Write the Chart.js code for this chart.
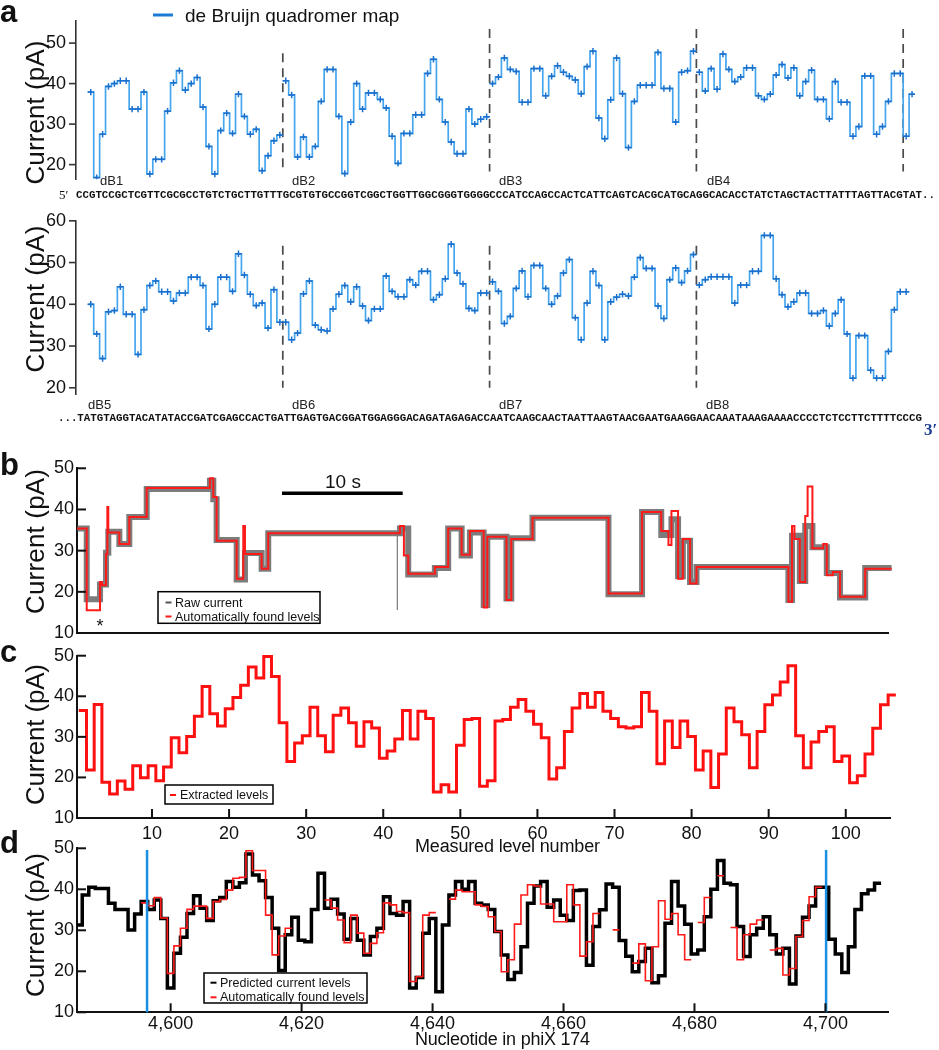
<!DOCTYPE html>
<html lang="en">
<head>
<meta charset="UTF-8" />
<title>de Bruijn map and phiX 174 current levels</title>
<style>
  html, body { margin: 0; padding: 0; background: #fff; }
  #page { position: relative; width: 939px; height: 1050px; overflow: hidden; }
  #page canvas { position: absolute; left: 0; }
  #notes { position: absolute; left: 0; top: 0; z-index: 2; }
  #err { position: absolute; left: 300px; top: 60px; z-index: 3; color: #c00; font: 12px monospace; }
</style>
</head>
<body>
<div id="page">
  <canvas id="chart_a1" width="939" height="200" style="top:0px"></canvas>
  <canvas id="chart_a2" width="939" height="215" style="top:200px"></canvas>
  <canvas id="chart_b" width="939" height="210" style="top:440px"></canvas>
  <canvas id="chart_c" width="939" height="215" style="top:640px"></canvas>
  <canvas id="chart_d" width="939" height="220" style="top:830px"></canvas>
  <div id="err"></div>

  <svg id="notes" width="939" height="1050" font-family="Liberation Sans, Arial, sans-serif" fill="#111">
    <!-- panel letters -->
    <g font-size="31" font-weight="bold">
      <text x="0" y="22">a</text>
      <text x="0" y="475">b</text>
      <text x="0" y="662">c</text>
      <text x="0" y="853">d</text>
    </g>
    <!-- y titles -->
    <g font-size="26" text-anchor="middle">
      <text transform="translate(43.5,112.5) rotate(-90)" textLength="144">Current (pA)</text>
      <text transform="translate(43.5,299) rotate(-90)" textLength="147">Current (pA)</text>
      <text transform="translate(43.5,541.5) rotate(-90)" textLength="145">Current (pA)</text>
      <text transform="translate(43.5,734.5) rotate(-90)" textLength="141">Current (pA)</text>
      <text transform="translate(43.5,925) rotate(-90)" textLength="144">Current (pA)</text>
    </g>
    <!-- x titles -->
    <text x="415" y="852" font-size="18" textLength="185">Measured level number</text>
    <text x="415" y="1045" font-size="18" textLength="175">Nucleotide in phiX 174</text>

    <!-- panel a legend -->
    <line x1="153" y1="15" x2="173" y2="15" stroke="#1a7ad4" stroke-width="3" />
    <text x="185" y="21.5" font-size="19">de Bruijn quadromer map</text>

    <!-- de Bruijn segment labels -->
    <g font-size="13" fill="#222">
      <text x="100" y="185">dB1</text>
      <text x="292" y="185">dB2</text>
      <text x="499" y="185">dB3</text>
      <text x="707" y="185">dB4</text>
      <text x="88" y="408.5">dB5</text>
      <text x="292" y="408.5">dB6</text>
      <text x="499" y="409">dB7</text>
      <text x="706" y="409">dB8</text>
    </g>

    <!-- strand sequence -->
    <text x="59" y="199" font-family="Liberation Serif, serif" font-size="13">5′</text>
    <g font-family="Liberation Mono, monospace" font-weight="bold" font-size="10.8">
      <text x="76" y="198" textLength="859" lengthAdjust="spacing">CCGTCCGCTCGTTCGCGCCTGTCTGCTTGTTTGCGTGTGCCGGTCGGCTGGTTGGCGGGTGGGGCCCATCCAGCCACTCATTCAGTCACGCATGCAGGCACACCTATCTAGCTACTTATTTAGTTACGTAT..</text>
      <text x="58" y="421" textLength="864" lengthAdjust="spacing">...TATGTAGGTACATATACCGATCGAGCCACTGATTGAGTGACGGATGGAGGGACAGATAGAGACCAATCAAGCAACTAATTAAGTAACGAATGAAGGAACAAATAAAGAAAACCCCTCTCCTTCTTTTCCCG</text>
    </g>
    <text x="924" y="435" font-family="Liberation Serif, serif" font-weight="bold" font-size="17" fill="#1c3f94">3′</text>

    <!-- panel b scale bar, asterisk, legend -->
    <line x1="282" y1="493.3" x2="402.7" y2="493.3" stroke="#000" stroke-width="3.5" />
    <text x="343" y="488" font-size="19" text-anchor="middle">10 s</text>
    <text x="100" y="632" font-size="18" text-anchor="middle">*</text>
    <rect x="158" y="591.7" width="162" height="31.6" fill="#fff" stroke="#000" stroke-width="1.5" />
    <line x1="165.5" y1="602.5" x2="171.5" y2="602.5" stroke="#555" stroke-width="2" />
    <line x1="165.5" y1="616.5" x2="171.5" y2="616.5" stroke="#ff1a1a" stroke-width="2" />
    <g font-size="12.5">
      <text x="175" y="606.7">Raw current</text>
      <text x="175" y="620.5">Automatically found levels</text>
    </g>

    <!-- panel c legend -->
    <rect x="165" y="785" width="108" height="19" fill="#fff" stroke="#000" stroke-width="1.5" />
    <line x1="170" y1="795" x2="176" y2="795" stroke="#ff1010" stroke-width="2" />
    <text x="180" y="799.3" font-size="12.5">Extracted levels</text>

    <!-- panel d legend -->
    <rect x="204" y="973" width="163" height="30" fill="#fff" stroke="#000" stroke-width="1.5" />
    <line x1="210.5" y1="982.7" x2="216.5" y2="982.7" stroke="#000" stroke-width="2" />
    <line x1="210.5" y1="997.3" x2="216.5" y2="997.3" stroke="#ff1a1a" stroke-width="2" />
    <g font-size="12.5">
      <text x="220" y="986.7">Predicted current levels</text>
      <text x="220" y="1000.7">Automatically found levels</text>
    </g>
  </svg>
</div>

<script src="https://cdn.jsdelivr.net/npm/chart.js"></script>
<script>
// ---- panel a : de Bruijn quadromer map, one level per nucleotide
const dB1 = [37.9, 16.8, 27.5, 39.3, 40.0, 40.7, 40.7, 33.7, 33.7, 37.9, 17.7, 21.3, 21.3, 33.2, 40.2, 43.2, 38.4,
  40.0, 41.5, 34.2, 24.5, 17.7, 28.4, 32.7, 27.7, 37.4, 31.9, 27.5, 28.7, 18.5, 22.2, 25.9, 27.3];
const dB2 = [40.7, 37.2, 21.9, 26.8, 21.9, 24.5, 35.6, 43.5, 43.5, 31.9, 17.8, 30.5, 40.0, 33.7, 37.7, 37.7, 36.1,
  34.0, 27.0, 20.3, 27.7, 27.7, 32.3, 32.3, 42.5, 46.0, 36.1, 30.5, 25.6, 22.7, 22.7, 33.7, 30.0, 31.2, 31.8];
const dB3 = [40.0, 41.6, 46.3, 43.5, 43.0, 35.4, 35.4, 43.7, 43.7, 37.0, 41.8, 44.4, 42.8, 41.8, 40.9, 37.5, 44.2,
  48.0, 31.5, 26.4, 36.0, 46.3, 37.5, 24.2, 35.6, 39.6, 39.6, 39.6, 47.7, 38.8, 38.8, 30.5, 42.8, 43.2, 48.0];
const dB4 = [42.8, 38.2, 43.7, 38.6, 47.3, 43.5, 40.5, 41.6, 43.9, 43.9, 37.0, 36.1, 37.4, 42.1, 44.7, 41.4, 43.9,
  37.0, 40.5, 43.3, 36.1, 36.1, 31.3, 40.5, 35.4, 35.4, 27.0, 29.4, 41.9, 41.9, 27.5, 29.4, 35.6, 42.5, 42.5, 27.0, 37.4];
const dB5 = [40.0, 32.9, 27.0, 38.2, 38.5, 44.2, 37.6, 37.6, 28.0, 38.7, 44.5, 45.6, 43.0, 43.0, 40.8, 42.7, 42.7,
  46.5, 46.5, 44.5, 34.1, 40.0, 46.5, 46.5, 43.1, 52.1, 47.0, 42.4, 39.7, 40.3, 34.3, 43.5, 35.7];
const dB6 = [35.7, 31.5, 33.1, 42.5, 45.6, 35.0, 33.9, 33.6, 38.9, 42.4, 44.5, 40.6, 44.2, 39.6, 36.1, 38.9, 38.9,
  46.8, 43.1, 41.8, 41.8, 45.9, 44.6, 47.9, 47.9, 41.1, 42.3, 46.1, 54.4, 47.5, 44.9, 39.0, 38.5, 42.7, 42.7];
const dB7 = [45.4, 43.1, 35.4, 37.1, 43.8, 48.0, 41.8, 49.3, 49.3, 43.8, 40.0, 42.0, 47.5, 50.7, 36.8, 31.5, 40.3,
  47.9, 44.5, 31.5, 40.6, 41.7, 42.4, 42.0, 46.5, 51.2, 48.6, 48.6, 39.6, 36.6, 45.9, 48.7, 45.2, 48.0, 51.9];
const dB8 = [44.6, 45.9, 46.6, 46.6, 46.6, 46.6, 40.3, 44.6, 44.6, 47.9, 47.9, 56.5, 56.5, 46.1, 42.3, 39.4, 40.6,
  42.7, 42.7, 37.8, 37.8, 38.5, 34.8, 37.8, 41.1, 32.9, 22.3, 32.5, 32.5, 24.2, 22.3, 22.3, 28.7, 38.7, 43.0, 43.0];
const segStart = [2, 35, 70, 105];          // first nucleotide position of each segment
const topBounds = [35, 70, 105, 140];       // dashed separators, top row
const topBoundsFrom = [47.5, 53.5, 53.5, 53.5];
const bottomBounds = [35, 70, 105];         // dashed separators, bottom row
const bottomBoundsFrom = [54, 54, 54];
const aTopTicks = [20, 30, 40, 50];
const aBottomTicks = [20, 30, 40, 50, 60];

// ---- panel b : raw trace (s) and automatically found levels
const bTimes = [0, 0.81, 1.92, 2.08, 2.42, 2.53, 2.61, 3.53, 4.36, 5.81, 11.08, 11.36, 11.64, 13.31, 13.86, 14.0,
  15.39, 15.94, 26.92, 27.25, 27.61, 29.83, 30.94, 32.06, 32.75, 33.9, 34.2, 35.8, 36.2, 37.97, 44.3, 47.1, 48.7,
  49.3, 49.55, 50.1, 50.5, 51.1, 51.64, 59.3, 59.6, 59.8, 60.25, 60.7, 60.9, 61.3, 62.2, 62.5, 63.0, 63.6, 65.7, 67.9, 68.2];
const bLevels = [35.4, 15.5, 22.4, 21.6, 29.2, 40.6, 34.4, 31.6, 38.2, 45.2, 47.6, 43.0, 32.4, 23.2, 36.0, 29.2,
  25.6, 34.2, 36.0, 28.8, 24.4, 26.0, 35.4, 29.0, 34.8, 16.2, 33.4, 18.0, 32.8, 38.0, 19.6, 39.4, 34.8,
  31.4, 39.6, 23.2, 32.8, 22.0, 26.0, 17.6, 36.0, 32.8, 22.4, 38.4, 45.6, 30.6, 31.6, 24.0, 24.8, 18.8, 25.6, 31.6, 36.4];
const bEnd = 68.3;
const rawTimes = [0, 0.81, 1.92, 2.42, 2.61, 3.53, 4.36, 5.81, 11.08, 11.36, 11.64, 13.31, 14.0, 15.39, 15.94,
  26.92, 27.61, 29.83, 30.94, 32.06, 32.75, 33.9, 34.2, 35.8, 36.2, 37.97, 44.3, 47.1, 48.7,
  49.55, 50.1, 50.5, 51.1, 51.64, 59.3, 59.6, 60.25, 60.7, 61.3, 62.5, 63.6, 65.7, 67.9];
const rawLevels = [35.4, 18.2, 21.8, 29.5, 34.6, 31.6, 38.2, 45.0, 47.0, 42.5, 32.6, 23.0, 29.4, 25.6, 34.2,
  35.4, 24.2, 25.8, 35.4, 28.8, 34.4, 16.8, 33.4, 18.4, 33.0, 38.0, 19.4, 39.4, 33.8,
  37.6, 23.8, 32.4, 22.4, 26.0, 18.0, 33.6, 22.6, 36.0, 30.8, 24.6, 18.6, 25.8, 31.0];
const rawEnd = 68.1;
const spikeTime = 26.7;                     // single downward spike in the raw trace
const spikeRange = [34.2, 15.6];
const bTicks = [10, 20, 30, 40, 50];

// ---- panel c : extracted levels, level number 1..106
const cLevels = [36.5, 21.8, 38.0, 18.8, 15.9, 19.1, 17.1, 22.9, 19.9, 22.9,
  19.2, 22.6, 29.8, 26.1, 30.1, 35.1, 42.4, 35.7, 32.7, 36.9,
  39.7, 42.7, 47.2, 44.5, 49.8, 44.9, 33.5, 23.9, 28.5, 30.3,
  37.3, 30.3, 26.3, 35.3, 37.1, 33.5, 27.7, 33.7, 32.2, 24.7,
  26.5, 29.5, 36.5, 29.5, 36.3, 34.5, 16.4, 18.2, 16.4, 27.9,
  34.3, 34.5, 17.8, 19.2, 33.9, 34.3, 37.3, 39.2, 36.3, 33.1,
  29.8, 19.6, 22.4, 31.3, 37.1, 40.7, 37.3, 40.9, 36.3, 34.5,
  32.5, 32.2, 32.5, 40.9, 36.3, 23.4, 33.9, 27.4, 33.9, 30.1,
  21.8, 26.5, 17.5, 25.8, 37.1, 33.7, 30.5, 22.4, 31.3, 37.9,
  40.3, 43.5, 47.5, 30.3, 22.4, 28.7, 31.3, 32.5, 23.9, 25.3,
  18.7, 20.4, 25.8, 32.1, 37.9, 40.3];
const cXTicks = [10, 20, 30, 40, 50, 60, 70, 80, 90, 100];
const cYTicks = [10, 20, 30, 40, 50];

// ---- panel d : predicted levels (nt 4586..4708) and found levels (nt 4596..4699)
const dFirstNt = 4586;
const dPredicted = [31.3, 38.6, 40.5, 40.2, 40.2, 36.6, 35.1, 35.1, 30.1, 34.0,
  37.0, 35.1, 37.4, 32.9, 15.9, 24.4, 28.3, 34.1, 38.4, 35.4,
  32.4, 37.2, 38.0, 41.9, 40.5, 41.6, 48.6, 43.5, 42.1, 38.0,
  30.5, 20.2, 28.9, 33.2, 27.6, 27.2, 35.1, 43.9, 35.4, 37.6,
  34.0, 27.8, 32.9, 27.6, 24.0, 28.5, 30.5, 38.2, 34.1, 33.7,
  37.0, 15.9, 18.5, 29.3, 32.9, 15.0, 31.3, 38.6, 41.9, 40.0,
  41.9, 36.6, 36.2, 35.1, 29.7, 24.0, 18.0, 19.7, 26.0, 36.6,
  40.8, 41.9, 35.6, 37.4, 33.7, 32.4, 39.7, 39.8, 21.5, 30.9,
  35.0, 41.3, 40.5, 27.5, 23.7, 19.9, 22.4, 25.6, 17.2, 18.9,
  31.7, 41.9, 35.9, 31.5, 24.2, 25.2, 33.3, 40.0, 47.0, 41.5,
  41.1, 30.9, 23.6, 28.9, 30.5, 33.3, 28.9, 24.2, 25.6, 16.9,
  28.6, 33.2, 35.9, 40.5, 40.5, 27.8, 24.2, 19.7, 26.0, 35.1,
  38.9, 39.8, 41.5];
const dFoundFirstNt = 4596;
const dFound = [36.7, 36.0, 38.0, 33.0, 19.5, 26.2, 30.5, 35.1, 35.9, 35.9,
  32.9, 37.0, 37.5, 39.8, 42.7, 42.9, 49.4, 44.6, 44.6, 33.7,
  24.0, 28.6, 30.5, null, null, null, null, null, 37.4, 35.4,
  32.5, 27.0, 33.7, 29.3, 24.4, 26.8, 29.4, 36.7, 36.2, 34.6,
  34.3, 17.5, 18.7, 33.7, 34.3, null, null, 37.6, 39.8, 39.4,
  39.4, 36.2, 35.8, 33.3, 29.7, 19.9, 22.8, 31.5, 38.6, 41.1,
  40.8, 36.4, 36.4, 32.1, 32.1, 41.1, 36.2, 23.7, 27.2, 34.1,
  null, null, 30.1, null, null, 22.0, 26.7, 17.7, 26.0, 37.2,
  32.7, 34.1, 28.9, 22.8, null, 31.9, 38.0, null, 43.3, null,
  30.7, 22.8, 28.9, 31.5, 32.5, null, 25.2, 25.6, 19.1, 20.7,
  28.5, 32.4, 38.2, 40.5];
const dBlueNt = [4596.4, 4700.1];
const dXTicks = [4600, 4620, 4640, 4660, 4680, 4700];
const dYTicks = [10, 20, 30, 40, 50];

// one flat run per level, a null leaves a gap
function steps(first, values) {
  const pts = [];
  values.forEach((v, i) => {
    const x0 = first + i;
    if (v === null) { pts.push({ x: x0, y: null }); return; }
    pts.push({ x: x0, y: v }, { x: x0 + 1, y: v });
  });
  return pts;
}
function stepsAt(times, values, end) {
  const pts = [];
  values.forEach((v, i) => {
    const t1 = i + 1 < times.length ? times[i + 1] : end;
    pts.push({ x: times[i], y: v }, { x: t1, y: v });
  });
  return pts;
}
function centers(first, values) {
  return values.map((v, i) => ({ x: first + i + 0.5, y: v }));
}

// tick marks and vertical marker lines, options kept in the closure
function extrasFor(cfg) {
  function vlines(chart) {
    const v = cfg.vlines, ctx = chart.ctx, xs = chart.scales.x, ys = chart.scales.y;
    ctx.save();
    ctx.strokeStyle = v.color; ctx.lineWidth = v.width; ctx.setLineDash(v.dash || []);
    v.at.forEach((val, i) => {
      const px = xs.getPixelForValue(val);
      const from = Array.isArray(v.from) ? v.from[i] : v.from;
      ctx.beginPath();
      ctx.moveTo(px, ys.getPixelForValue(from));
      ctx.lineTo(px, v.to === undefined ? chart.chartArea.bottom : ys.getPixelForValue(v.to));
      ctx.stroke();
    });
    ctx.restore();
  }
  return {
    id: 'extras',
    beforeDatasetsDraw(chart) { if (cfg.vlines && !cfg.vlines.front) vlines(chart); },
    afterDatasetsDraw(chart) { if (cfg.vlines && cfg.vlines.front) vlines(chart); },
    afterDraw(chart) {
      const m = cfg.marks, ctx = chart.ctx, a = chart.chartArea;
      ctx.save();
      ctx.strokeStyle = m.color || '#111';
      ctx.lineWidth = m.width || 2;
      const ys = chart.scales.y;
      cfg.yTicks.forEach(t => {
        const py = ys.getPixelForValue(t);
        ctx.beginPath(); ctx.moveTo(a.left, py); ctx.lineTo(a.left + m.dir * m.len, py); ctx.stroke();
      });
      if (cfg.xTicks) {
        const xs = chart.scales.x;
        cfg.xTicks.forEach(t => {
          const px = xs.getPixelForValue(t);
          ctx.beginPath(); ctx.moveTo(px, a.bottom); ctx.lineTo(px, a.bottom - m.len); ctx.stroke();
        });
      }
      ctx.restore();
    }
  };
}

const tickFont = { family: 'Liberation Sans, Arial, sans-serif', size: 18 };

function makePanel(id, cfg) {
  return new Chart(document.getElementById(id), {
    type: 'line',
    data: { datasets: cfg.datasets },
    options: {
      responsive: false,
      animation: false,
      events: [],
      layout: { padding: { left: 0, right: 939 - cfg.right, top: cfg.top, bottom: 0 } },
      elements: { point: { radius: 0 }, line: { tension: 0 } },
      plugins: { legend: { display: false }, tooltip: { enabled: false } },
      scales: {
        x: {
          type: 'linear',
          min: cfg.xMin, max: cfg.xMax,
          grid: { display: false, drawTicks: false },
          border: { display: cfg.xLine !== false, color: '#111', width: 2 },
          afterBuildTicks: s => { s.ticks = (cfg.xTicks || []).map(v => ({ value: v })); },
          afterFit: s => { s.height = cfg.xHeight; },
          ticks: {
            display: !!cfg.xTicks,
            autoSkip: false,
            maxRotation: 0,
            padding: cfg.xPad || 3,
            color: '#111',
            font: tickFont,
            callback: v => cfg.xComma ? v.toLocaleString('en-US') : String(v)
          }
        },
        y: {
          type: 'linear',
          min: cfg.yMin, max: cfg.yMax,
          grid: { display: false, drawTicks: false },
          border: { display: true, color: cfg.axisColor || '#111', width: cfg.axisWidth || 2 },
          afterBuildTicks: s => { s.ticks = cfg.yTicks.map(v => ({ value: v })); },
          afterFit: s => { s.width = cfg.left; },
          ticks: { padding: cfg.yPad, color: '#111', font: tickFont }
        }
      }
    },
    plugins: [extrasFor(cfg)]
  });
}

const mapLine = { borderColor: '#45a6ee', borderWidth: 1.7, pointRadius: 0 };
const mapMarks = { showLine: false, pointStyle: 'cross', pointRadius: 3.2, pointBorderWidth: 1.5, pointBorderColor: '#1b6fcc' };
const topSegs = [dB1, dB2, dB3, dB4];
const bottomSegs = [dB5, dB6, dB7, dB8];

// datasets listed first are drawn on top
const panels = [
  ['chart_a1', {
    top: 5, xHeight: 10, xLine: false, left: 76, right: 915,
    xMin: 0, xMax: 142, yMin: 16.4, yMax: 55.5, yTicks: aTopTicks, yPad: 10,
    axisColor: '#333', axisWidth: 1.6,
    marks: { dir: -1, len: 7, width: 1.6, color: '#333' },
    vlines: { at: topBounds, from: topBoundsFrom, to: 18.3, color: '#4a4a4a', width: 1.7, dash: [9, 6] },
    datasets: [
      ...topSegs.map((s, i) => ({ ...mapMarks, data: centers(segStart[i], s) })),
      ...topSegs.map((s, i) => ({ ...mapLine, data: steps(segStart[i], s) }))
    ]
  }],
  ['chart_a2', {
    top: 13.3, xHeight: 5, xLine: false, left: 76, right: 915,
    xMin: 0, xMax: 142, yMin: 18.46, yMax: 60, yTicks: aBottomTicks, yPad: 10,
    axisColor: '#333', axisWidth: 1.6,
    marks: { dir: -1, len: 7, width: 1.6, color: '#333' },
    vlines: { at: bottomBounds, from: bottomBoundsFrom, to: 20, color: '#4a4a4a', width: 1.7, dash: [9, 6] },
    datasets: [
      ...bottomSegs.map((s, i) => ({ ...mapMarks, data: centers(segStart[i], s) })),
      ...bottomSegs.map((s, i) => ({ ...mapLine, data: steps(segStart[i], s) }))
    ]
  }],
  ['chart_b', {
    top: 28.3, left: 77, right: 888, xHeight: 17,
    xMin: 0, xMax: 67.6, yMin: 10, yMax: 50, yTicks: bTicks, yPad: 3,
    marks: { dir: 1, len: 9 },
    datasets: [
      { data: stepsAt(bTimes, bLevels, bEnd), borderColor: '#ff1a1a', borderWidth: 2, clip: false },
      { data: spikeRange.map(v => ({ x: spikeTime, y: v })), borderColor: '#777', borderWidth: 1.2 },
      { data: stepsAt(rawTimes, rawLevels, rawEnd), borderColor: 'rgba(80,80,80,0.75)', borderWidth: 6, clip: false }
    ]
  }],
  ['chart_c', {
    top: 15.7, left: 77, right: 890, xHeight: 37,
    xMin: 0.27, xMax: 105.74, xTicks: cXTicks, xPad: 5,
    yMin: 10, yMax: 50, yTicks: cYTicks, yPad: 3,
    marks: { dir: 1, len: 9 },
    datasets: [
      { data: steps(0.5, cLevels), borderColor: '#ff1010', borderWidth: 3, clip: false }
    ]
  }],
  ['chart_d', {
    top: 18.3, left: 77, right: 888.3, xHeight: 37.7,
    xMin: 4585.7, xMax: 4709.6, xTicks: dXTicks, xPad: 1, xComma: true,
    yMin: 10, yMax: 50, yTicks: dYTicks, yPad: 3,
    marks: { dir: 1, len: 9 },
    vlines: { at: dBlueNt, from: 49.6, color: '#1a8fe3', width: 2.5, front: true },
    datasets: [
      { data: steps(dFoundFirstNt - 0.5, dFound), borderColor: '#ff1a1a', borderWidth: 1.6 },
      { data: steps(dFirstNt - 0.5, dPredicted), borderColor: '#000', borderWidth: 3.5 }
    ]
  }]
];

panels.forEach(([id, cfg]) => {
  try { makePanel(id, cfg); }
  catch (e) { document.getElementById('err').textContent += id + ': ' + e.message + ' | '; }
});
</script>
</body>
</html>
